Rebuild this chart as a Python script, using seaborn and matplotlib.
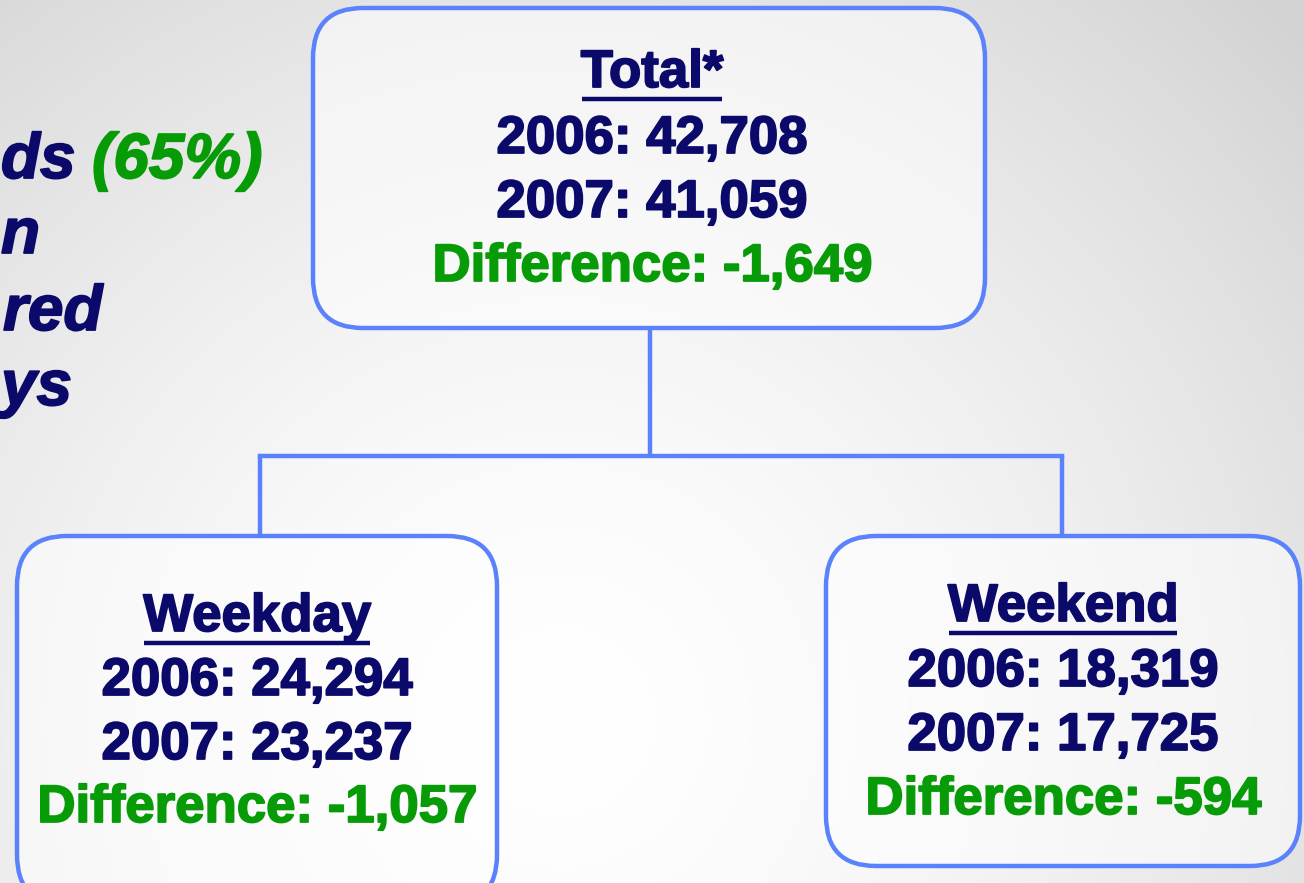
import numpy as np
import matplotlib
matplotlib.use("Agg")
import matplotlib.pyplot as plt
from matplotlib.patches import FancyBboxPatch
import matplotlib.patheffects as pe
import seaborn as sns

sns.set_theme(style="white")
plt.rcParams['font.family'] = ['Liberation Sans', 'DejaVu Sans']

# ---- data ----
categories = ["Total*", "Weekday", "Weekend"]
values_2006 = [42708, 24294, 18319]
values_2007 = [41059, 23237, 17725]
differences = [-1649, -1057, -594]
side_lines = ["ds", "n", "red", "ys"]
side_pct = "(65%)"

NAVY = "#0b0a6b"
GREEN = "#079c07"
BLUE = "#5a82fb"

W, H = 1304, 883
fig = plt.figure(figsize=(W / 100, H / 100), dpi=100)
ax = fig.add_axes([0, 0, 1, 1])
ax.set_xlim(0, W)
ax.set_ylim(H, 0)
ax.axis("off")

# background radial gradient
yy, xx = np.mgrid[0:H, 0:W]
d = np.sqrt((xx - 560) ** 2 + (yy - 720) ** 2) / 1000.0
d = np.clip(d, 0, 1)
val = 1.0 - 0.17 * d ** 1.6
img = np.dstack([val, val, val])
ax.imshow(img, extent=(0, W, H, 0), zorder=0, aspect="auto")

# boxes: (x0, y0, x1, y1)
boxes = [(313, 8, 985, 328), (17, 536, 497, 905), (826, 536, 1300, 866)]
line_y = [(73, 139, 203, 267), (617, 681, 745, 808), (607, 672, 736, 800)]

for (x0, y0, x1, y1) in boxes:
    r = 50
    p = FancyBboxPatch((x0 + r, y0 + r), (x1 - x0) - 2 * r, (y1 - y0) - 2 * r,
                       boxstyle=f"round,pad={r},rounding_size={r}",
                       facecolor=(1, 1, 1, 0.55), edgecolor=BLUE, linewidth=3.2, zorder=2)
    ax.add_patch(p)

# connectors
ax.plot([650, 650], [328, 456], color=BLUE, lw=3.2, zorder=1, solid_capstyle="butt")
ax.plot([260, 1062], [456, 456], color=BLUE, lw=3.2, zorder=1, solid_capstyle="projecting")
ax.plot([260, 260], [456, 536], color=BLUE, lw=3.2, zorder=1)
ax.plot([1062, 1062], [456, 536], color=BLUE, lw=3.2, zorder=1)

fs = 38


def heavy(color):
    return [pe.withStroke(linewidth=1.3, foreground=color)]


titles = []
for i, (x0, y0, x1, y1) in enumerate(boxes):
    cx = (x0 + x1) / 2 + (3 if i == 0 else 0)
    ys = line_y[i]
    t = ax.text(cx, ys[0], categories[i], ha="center", va="center", fontsize=fs,
                fontweight="bold", color=NAVY, zorder=3, path_effects=heavy(NAVY))
    titles.append(t)
    ax.text(cx, ys[1], f"2006: {values_2006[i]:,}", ha="center", va="center",
            fontsize=fs, fontweight="bold", color=NAVY, zorder=3, path_effects=heavy(NAVY))
    ax.text(cx, ys[2], f"2007: {values_2007[i]:,}", ha="center", va="center",
            fontsize=fs, fontweight="bold", color=NAVY, zorder=3, path_effects=heavy(NAVY))
    ax.text(cx, ys[3], f"Difference: {differences[i]:,}", ha="center", va="center",
            fontsize=fs, fontweight="bold", color=GREEN, zorder=3, path_effects=heavy(GREEN))

# underlines
fig.canvas.draw()
renderer = fig.canvas.get_renderer()
inv = ax.transData.inverted()
for t, (x0, y0, x1, y1), ys in zip(titles, boxes, line_y):
    bb = t.get_window_extent(renderer)
    (ax_l, _), (ax_r, _) = inv.transform([(bb.x0, bb.y0), (bb.x1, bb.y0)])
    ax.plot([ax_l + 1, ax_r - 1], [ys[0] + 26, ys[0] + 26], color=NAVY, lw=3.2,
            zorder=3, solid_capstyle="butt")

# left partial text (kept inside the canvas)
sfs = 46
side_base = [178, 253, 330, 405]
side_left = [1, 1, 3, 1]
for s, y, xl in zip(side_lines, side_base, side_left):
    ax.text(xl, y, s, ha="left", va="baseline", fontsize=sfs, fontweight="bold",
            fontstyle="italic", color=NAVY, zorder=3, path_effects=heavy(NAVY))
ax.text(92, side_base[0], side_pct, ha="left", va="baseline", fontsize=sfs,
        fontweight="bold", fontstyle="italic", color=GREEN, zorder=3,
        path_effects=heavy(GREEN))

fig.savefig("out.png", dpi=100)
